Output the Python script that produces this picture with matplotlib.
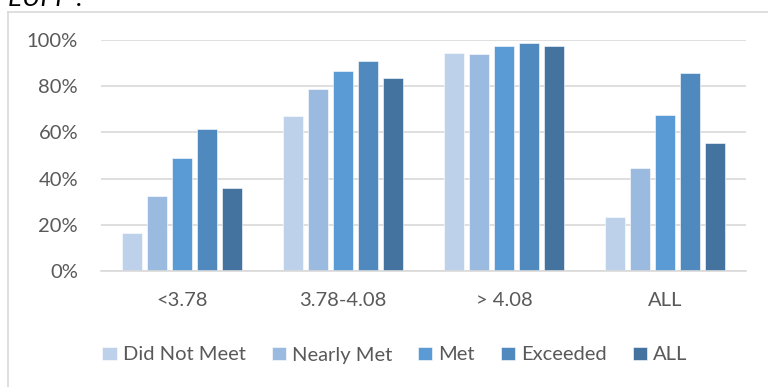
import matplotlib.pyplot as plt
import numpy as np
from matplotlib.lines import Line2D

# Categories and series (fraction of students)
groups = ['<3.78', '3.78-4.08', '> 4.08', 'ALL']
series = ['Did Not Meet', 'Nearly Met', 'Met', 'Exceeded', 'ALL']
did_not_meet = [0.165, 0.672, 0.942, 0.234]
nearly_met = [0.325, 0.788, 0.941, 0.446]
met = [0.490, 0.866, 0.974, 0.675]
exceeded = [0.613, 0.908, 0.987, 0.857]
all_students = [0.358, 0.837, 0.974, 0.555]
colors = ['#BDD1EA', '#9BBAE0', '#5B9BD5', '#4F89BD', '#43739E']

values = [did_not_meet, nearly_met, met, exceeded, all_students]

plt.rcParams['font.family'] = ['Lato', 'DejaVu Sans']

fig = plt.figure(figsize=(7.68, 3.87), dpi=100)
ax = fig.add_axes([101 / 768, 1 - 271 / 387, 645 / 768, 231 / 387])

x = np.arange(len(groups))
step = 0.155
width = 0.124
for i, (name, vals) in enumerate(zip(series, values)):
    ax.bar(x + (i - 2) * step, vals, width, color=colors[i], label=name,
           edgecolor='white', linewidth=0.4, zorder=3)

ax.set_xlim(-0.5, len(groups) - 0.5)
ax.set_ylim(0, 1.0)
ax.set_yticks(np.arange(0, 1.01, 0.2))
ax.set_yticklabels([f'{int(round(v * 100))}%' for v in np.arange(0, 1.01, 0.2)])
ax.set_xticks(x)
ax.set_xticklabels(groups)
ax.grid(axis='y', color='#D9D9D9', linewidth=1.2, zorder=0)
ax.tick_params(axis='both', length=0, labelsize=14.5, colors='#595959')
ax.tick_params(axis='y', pad=16.5)
ax.tick_params(axis='x', pad=15)
for s in ['top', 'right', 'left']:
    ax.spines[s].set_visible(False)
ax.spines['bottom'].set_color('#D9D9D9')
ax.spines['bottom'].set_linewidth(1.2)
ax.spines['bottom'].set_zorder(4)

leg = fig.legend(loc='center', bbox_to_anchor=(395 / 768, 1 - 355 / 387),
                 ncol=5, frameon=False, fontsize=14.5, handlelength=0.7,
                 handleheight=0.65, handletextpad=0.3, columnspacing=1.3)
for t in leg.get_texts():
    t.set_color('#595959')

# chart-area frame (left and top edges visible)
fig.add_artist(Line2D([7.5 / 768, 7.5 / 768], [0, 1 - 12 / 387],
                      transform=fig.transFigure, color='#D9D9D9', linewidth=1.2))
fig.add_artist(Line2D([7.5 / 768, 1], [1 - 12 / 387, 1 - 12 / 387],
                      transform=fig.transFigure, color='#D9D9D9', linewidth=1.2))

# title, clipped at the very top as in the source
fig.text(8 / 768, 1 - 6 / 387, 'EUPP :', fontsize=19, style='italic',
         color='black', va='baseline', ha='left')

fig.savefig('out.png', dpi=100)
